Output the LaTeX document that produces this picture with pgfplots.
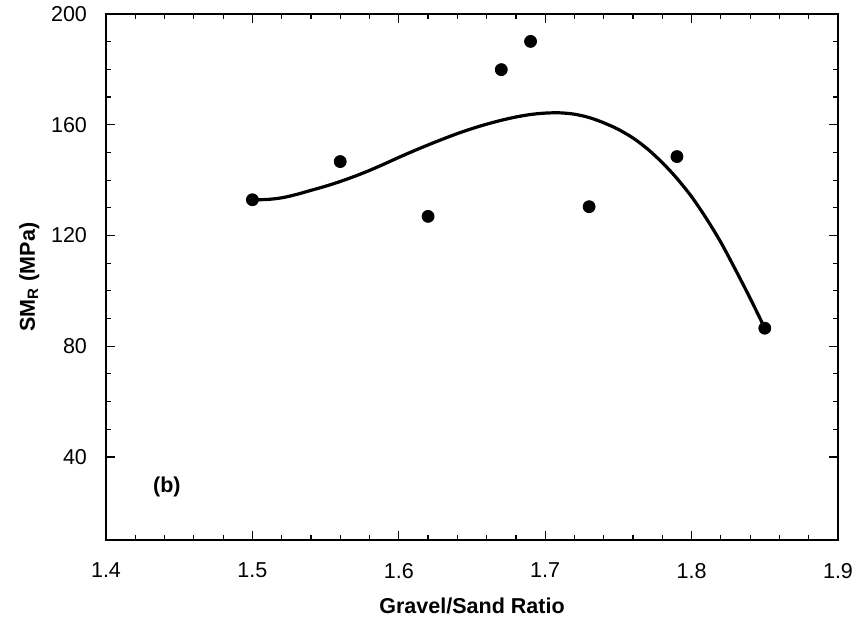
\documentclass[border=0pt]{standalone}
\usepackage{fontspec}
\setmainfont{Liberation Sans}
\usepackage{pgfplots}
\pgfplotsset{compat=1.18}
\begin{document}
\begin{tikzpicture}
\begin{axis}[
  scale only axis,
  width=366bp, height=263bp,
  xmin=1.4, xmax=1.9, ymin=10, ymax=200,
  xtick={1.4,1.5,...,1.9},
  ytick={40,80,120,160,200},
  minor x tick num=4,
  minor y tick num=3,
  tick align=inside,
  major tick length=4.5bp,
  minor tick length=2.5bp,
  tick style={black, line width=0.6pt},
  axis line style={line width=0.8pt},
  xticklabel style={font=\fontsize{10.8}{12}\selectfont},
  yticklabel style={font=\fontsize{10.8}{12}\selectfont},
  /pgf/number format/assume math mode=true,
  /pgf/number format/fixed,
  /pgf/number format/precision=1,
  x tick label style={/pgf/number format/fixed zerofill},
  y tick label style={/pgf/number format/precision=0},
  xticklabel shift=8bp,
  yticklabel shift=6bp,
  xlabel={\textbf{Gravel/Sand Ratio}},
  ylabel={\textbf{SM\textsubscript{R} (MPa)}},
  label style={font=\fontsize{10.8}{12}\selectfont},
  xlabel style={yshift=-3bp},
  ylabel style={yshift=-1bp},
  clip=false,
]
\addplot[black, line width=1.6bp, smooth, tension=0.5] coordinates {
(1.50,132.9) (1.51,133.0) (1.52,133.6) (1.53,134.8) (1.54,136.3) (1.55,137.8) (1.56,139.5)
(1.57,141.4) (1.58,143.5) (1.59,145.8) (1.60,148.2) (1.61,150.5) (1.62,152.7)
(1.63,154.8) (1.64,156.8) (1.65,158.6) (1.66,160.2) (1.67,161.6) (1.68,162.8)
(1.69,163.7) (1.70,164.2) (1.71,164.3) (1.72,163.8) (1.73,162.6) (1.74,160.7)
(1.75,158.3) (1.76,155.2) (1.77,151.2) (1.78,146.3) (1.79,140.6) (1.80,134.0)
(1.81,126.2) (1.82,117.5) (1.83,107.6) (1.84,97.3) (1.85,86.5)
};
\addplot[only marks, mark=*, mark size=3bp, black] coordinates {
(1.50,132.9) (1.56,146.7) (1.62,126.9) (1.67,179.9) (1.69,190.1)
(1.73,130.4) (1.79,148.5) (1.85,86.5)
};
\node[font=\fontsize{10.8}{12}\selectfont\bfseries] at (axis cs:1.4416,29.2) {(b)};
\end{axis}
\pgfresetboundingbox
\path ([xshift=-53bp,yshift=-40bp]current axis.south west) rectangle ([xshift=10bp,yshift=7bp]current axis.north east);
\end{tikzpicture}
\end{document}
